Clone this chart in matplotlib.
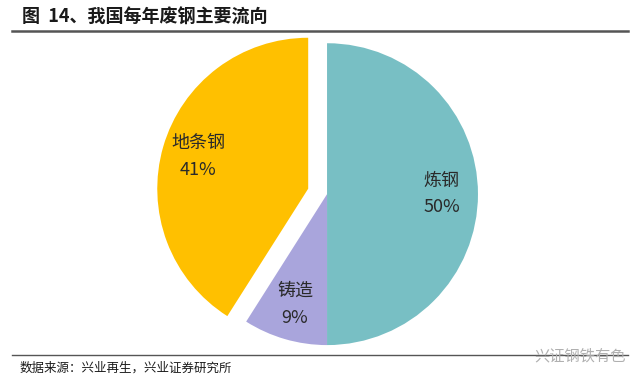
import matplotlib
matplotlib.use("Agg")
import matplotlib.pyplot as plt

plt.rcParams['font.family'] = ['Noto Sans CJK SC', 'DejaVu Sans']

# Data
categories = ['炼钢', '铸造', '地条钢']
shares = [50, 9, 41]
colors = ['#78BFC4', '#A9A5DC', '#FFC000']
explode = [0, 0, 0.13]

labels = [f"{c}\n{v}%" for c, v in zip(categories, shares)]

fig = plt.figure(figsize=(6.4, 3.86), dpi=100)

ax = fig.add_axes([0.275, 0.106, 0.472, 0.782])
wedges, texts = ax.pie(shares, labels=labels, colors=colors, explode=explode,
                       startangle=90, counterclock=False, labeldistance=0.76,
                       wedgeprops=dict(linewidth=0),
                       textprops=dict(fontsize=13, color='#2a2a2a',
                                      ha='center', va='center',
                                      linespacing=1.6))
for t in texts:
    t.set_horizontalalignment('center')
ax.set_xlim(-1, 1)
ax.set_ylim(-1, 1)
ax.axis('off')

# Title and rules
fig.text(0.034, 0.955, "图  14、我国每年废钢主要流向", fontsize=13, fontweight='bold',
         color='#1a1a1a', ha='left', va='center')
fig.add_artist(plt.Line2D([0.019, 0.981], [0.919, 0.919], color='#555555', linewidth=1.8))
fig.add_artist(plt.Line2D([0.019, 0.981], [0.081, 0.081], color='#555555', linewidth=1.0))

# Source and watermark
fig.text(0.031, 0.045, "数据来源：兴业再生，兴业证券研究所", fontsize=9,
         color='#1a1a1a', ha='left', va='center')
fig.text(0.978, 0.078, "兴证钢铁有色", fontsize=11, color='#b0b0b0',
         ha='right', va='center')

plt.savefig("out.png", dpi=100)
